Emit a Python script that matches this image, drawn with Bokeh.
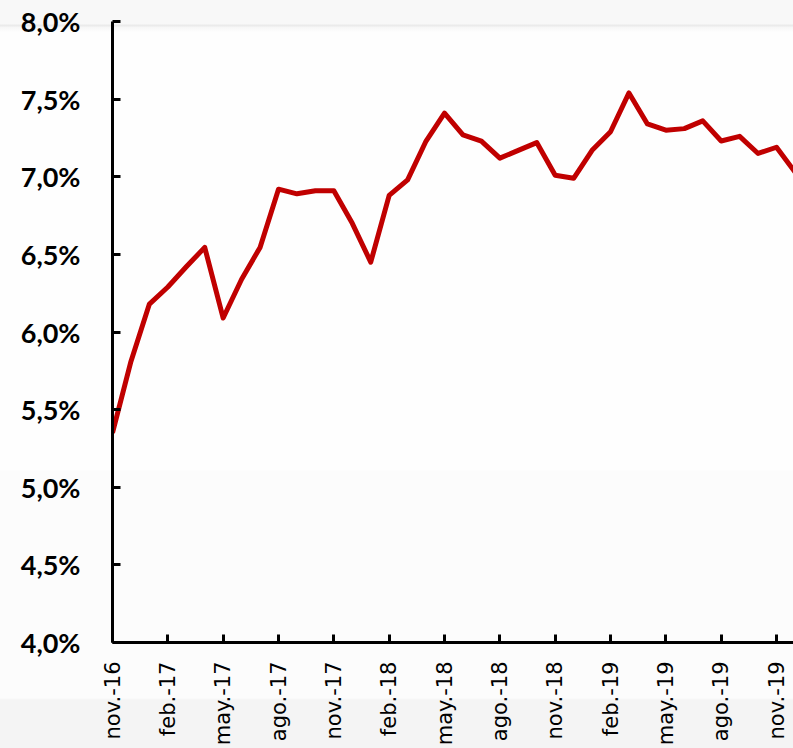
import math
from bokeh.plotting import figure
from bokeh.models import FixedTicker, Range1d, Label
from bokeh.embed import file_html
from bokeh.resources import INLINE

# ---- data ----
title_text = "Con IPC sin alimentos"
months = ["ene.", "feb.", "mar.", "abr.", "may.", "jun.",
          "jul.", "ago.", "sep.", "oct.", "nov.", "dic."]
start_month = 10  # nov
start_year = 16
values = [5.35, 5.81, 6.18, 6.29, 6.42, 6.545, 6.09, 6.34, 6.545, 6.92,
          6.89, 6.91, 6.91, 6.70, 6.45, 6.88, 6.98, 7.23, 7.41, 7.27,
          7.23, 7.12, 7.17, 7.22, 7.01, 6.99, 7.17, 7.29, 7.54, 7.34,
          7.30, 7.31, 7.36, 7.23, 7.26, 7.15, 7.19, 7.03]
y_ticks = [4.0, 4.5, 5.0, 5.5, 6.0, 6.5, 7.0, 7.5, 8.0]
y_tick_labels = ["4,0%", "4,5%", "5,0%", "5,5%", "6,0%", "6,5%", "7,0%", "7,5%", "8,0%"]

n = len(values)
xs = list(range(n))
labels = []
for i in range(n):
    m = (start_month + i) % 12
    y = start_year + (start_month + i) // 12
    labels.append(f"{months[m]}-{y}")
x_ticks = list(range(0, n, 3))

p = figure(width=793, height=748, output_backend="svg", toolbar_location=None,
           x_range=Range1d(0, 36.92), y_range=Range1d(4.0, 8.0),
           min_border_left=112, min_border_right=0, min_border_top=21,
           min_border_bottom=102)
p.outline_line_color = None
p.border_fill_alpha = 0
p.background_fill_alpha = 0
p.styles = {"background": "linear-gradient(to bottom, #f8f8f8 0px, #f8f8f8 24px, #ebebeb 25px, #ebebeb 26px, #f6f6f6 27px, #fefefe 32px, #fefefe 470px, #fcfcfc 471px, #fcfcfc 698px, #f4f4f4 700px, #f4f4f4 100%)"}
p.grid.visible = False

p.line(xs, values, line_color="#c00000", line_width=5, line_join="round")

# title, cut by the top edge as in the reference
p.add_layout(Label(x=16.74, y=8.109, text=title_text, text_align="center",
                   text_baseline="alphabetic", text_font="Lato",
                   text_font_style="bold", text_font_size="30px",
                   text_color="black"))

# y axis
ya = p.yaxis[0]
ya.ticker = FixedTicker(ticks=y_ticks)
ya.major_label_overrides = {t: l for t, l in zip(y_ticks, y_tick_labels)}
ya.axis_line_width = 3
ya.axis_line_color = "black"
ya.major_tick_line_width = 3
ya.major_tick_in = 8
ya.major_tick_out = 0
ya.minor_tick_line_color = None
ya.major_label_standoff = 32
ya.major_label_text_font = "Lato"
ya.major_label_text_font_style = "bold"
ya.major_label_text_font_size = "27px"
ya.major_label_text_color = "black"

# x axis
xa = p.xaxis[0]
xa.ticker = FixedTicker(ticks=x_ticks)
xa.major_label_overrides = {t: labels[t] for t in x_ticks}
xa.major_label_orientation = math.pi / 2
xa.axis_line_width = 3
xa.axis_line_color = "black"
xa.major_tick_line_width = 3
xa.major_tick_in = 8
xa.major_tick_out = 0
xa.minor_tick_line_color = None
xa.major_label_standoff = 19
xa.major_label_text_font = "DejaVu Sans"
xa.major_label_text_font_size = "21px"
xa.major_label_text_color = "black"

open("out.html", "w").write(file_html(p, INLINE))
